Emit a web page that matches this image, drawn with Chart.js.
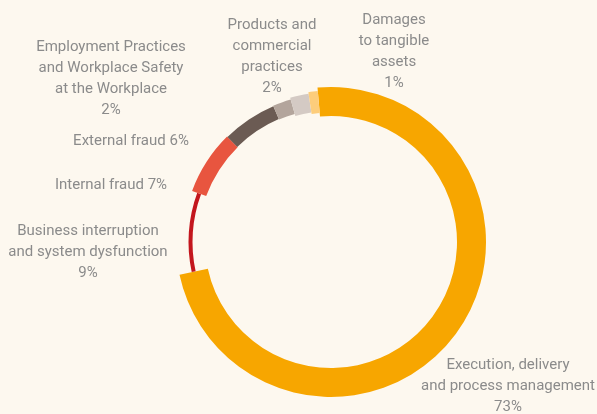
<!DOCTYPE html>
<html>
<head>
<meta charset="utf-8">
<title>Operational losses by event type</title>
<script src="https://cdn.jsdelivr.net/npm/chart.js@4.4.1/dist/chart.umd.min.js"></script>
<style>
  html, body { margin: 0; padding: 0; background: #fdf8ef; }
  #wrap { width: 597px; height: 414px; position: relative; }
</style>
</head>
<body>
<div id="wrap"><canvas id="lossChart" width="597" height="414"></canvas></div>
<script>
// event types, in drawing order (clockwise from the top)
const categories = [
  ['Execution, delivery', 'and process management'],
  ['Business interruption', 'and system dysfunction'],
  ['Internal fraud'],
  ['External fraud'],
  ['Employment Practices', 'and Workplace Safety', 'at the Workplace'],
  ['Products and', 'commercial', 'practices'],
  ['Damages', 'to tangible', 'assets']
];
const shares = [73, 9, 7, 6, 2, 2, 1];

const colors = ['#f7a600', '#c3161d', '#e8553f', '#6b5b53', '#b3a59c', '#d4cac4', '#fdcd7b'];
// ring thickness of each slice, px
const ringWidths = [29, 4, 15, 14, 15, 19, 22];

// where each label block sits: x = centre, y = middle of first line
const labelSpots = [
  { x: 508, y: 365, inline: false },
  { x: 88,  y: 231, inline: false },
  { x: 111, y: 185, inline: true },
  { x: 131, y: 141, inline: true },
  { x: 111, y: 47,  inline: false },
  { x: 272, y: 25,  inline: false },
  { x: 394, y: 20,  inline: false }
];
const lineHeight = 21;

// give every slice its own thickness around a shared centre line
const ringPlugin = {
  id: 'ringWidths',
  afterDatasetUpdate(chart, args) {
    const arcs = args.meta.data;
    const outer = args.meta.controller.outerRadius;
    const mid = outer - Math.max(...ringWidths) / 2;
    arcs.forEach((arc, i) => {
      arc.innerRadius = mid - ringWidths[i] / 2;
      arc.outerRadius = mid + ringWidths[i] / 2;
    });
  }
};

const labelPlugin = {
  id: 'sliceLabels',
  afterDraw(chart) {
    const ctx = chart.ctx;
    ctx.save();
    ctx.font = '400 15px Roboto, "Liberation Sans", sans-serif';
    ctx.fillStyle = '#8b8b8b';
    ctx.textAlign = 'center';
    ctx.textBaseline = 'middle';
    categories.forEach((lines, i) => {
      const spot = labelSpots[i];
      const pct = shares[i] + '%';
      const rows = spot.inline ? [lines.join(' ') + ' ' + pct] : lines.concat([pct]);
      rows.forEach((txt, k) => ctx.fillText(txt, spot.x, spot.y + k * lineHeight));
    });
    ctx.restore();
  }
};

new Chart(document.getElementById('lossChart'), {
  type: 'doughnut',
  data: {
    labels: categories.map(l => l.join(' ')),
    datasets: [{
      data: shares,
      backgroundColor: colors,
      borderWidth: 0,
      hoverOffset: 0
    }]
  },
  options: {
    responsive: false,
    animation: false,
    rotation: -5,
    cutout: '80%',
    layout: { padding: { left: 176, right: 111, top: 87, bottom: 17 } },
    plugins: {
      legend: { display: false },
      tooltip: { enabled: false }
    }
  },
  plugins: [ringPlugin, labelPlugin]
});
</script>
</body>
</html>
